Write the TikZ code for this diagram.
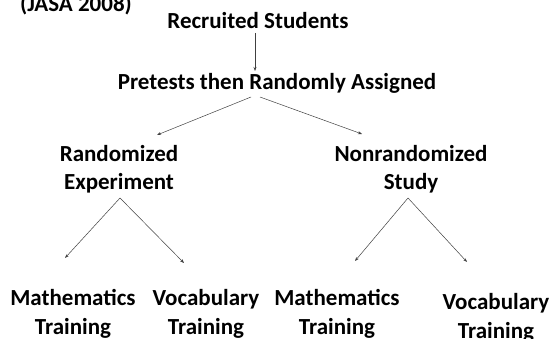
\documentclass[tikz,border=0pt]{standalone}
\usepackage{fontspec}
\setmainfont{Carlito}
\usepackage{tikz}
\usetikzlibrary{arrows.meta, calc}

\begin{document}
\begin{tikzpicture}[x=1pt, y=-1pt,
  label/.style={anchor=base, inner sep=0pt, align=center, font=\fontsize{23}{27.5}\selectfont\bfseries},
  leaf/.style={label, font=\fontsize{23}{29}\selectfont\bfseries},
  link/.style={-{Stealth[length=4pt, width=3pt]}, line width=0.5pt, black!75}]
% Frame of the slide
\useasboundingbox (0,0) rectangle (553,339);

% Title, cut at the top
\node[label] (jasa) at (76,12) {(JASA 2008)};

% Top of the tree
\node[label] (rec) at (258,29) {Recruited Students};
\node[label] (pre) at (277,90) {Pretests then Randomly Assigned};

% Two arms (base = last line)
\node[label] (rand) at (119,189) {Randomized\\Experiment};
\node[label] (non) at (411,189) {Nonrandomized\\Study};

% Training groups
\node[leaf] (mathA) at (73,334) {Mathematics\\Training};
\node[leaf] (vocA) at (206,334) {Vocabulary\\Training};
\node[leaf] (mathB) at (337,334) {Mathematics\\Training};
\node[leaf] (vocB) at (496,338) {Vocabulary\\Training};

% Arrows
\draw[link] ($(rec.base)+(-3,4)$) -- ($(pre.base)+(-22,-19)$);
\draw[link] ($(pre.base)+(-26,7)$) -- ($(rand.base)+(38,-54)$);
\draw[link] ($(pre.base)+(-17,7)$) -- ($(non.base)+(-49,-55)$);
\draw[link] ($(rand.base)+(1,9)$) -- ($(mathA.base)+(-8,-76)$);
\draw[link] ($(rand.base)+(1,9)$) -- ($(vocA.base)+(-22,-71)$);
\draw[link] ($(non.base)+(-3,9)$) -- ($(mathB.base)+(18,-73)$);
\draw[link] ($(non.base)+(-3,9)$) -- ($(vocB.base)+(-29,-76)$);

\end{tikzpicture}
\end{document}
